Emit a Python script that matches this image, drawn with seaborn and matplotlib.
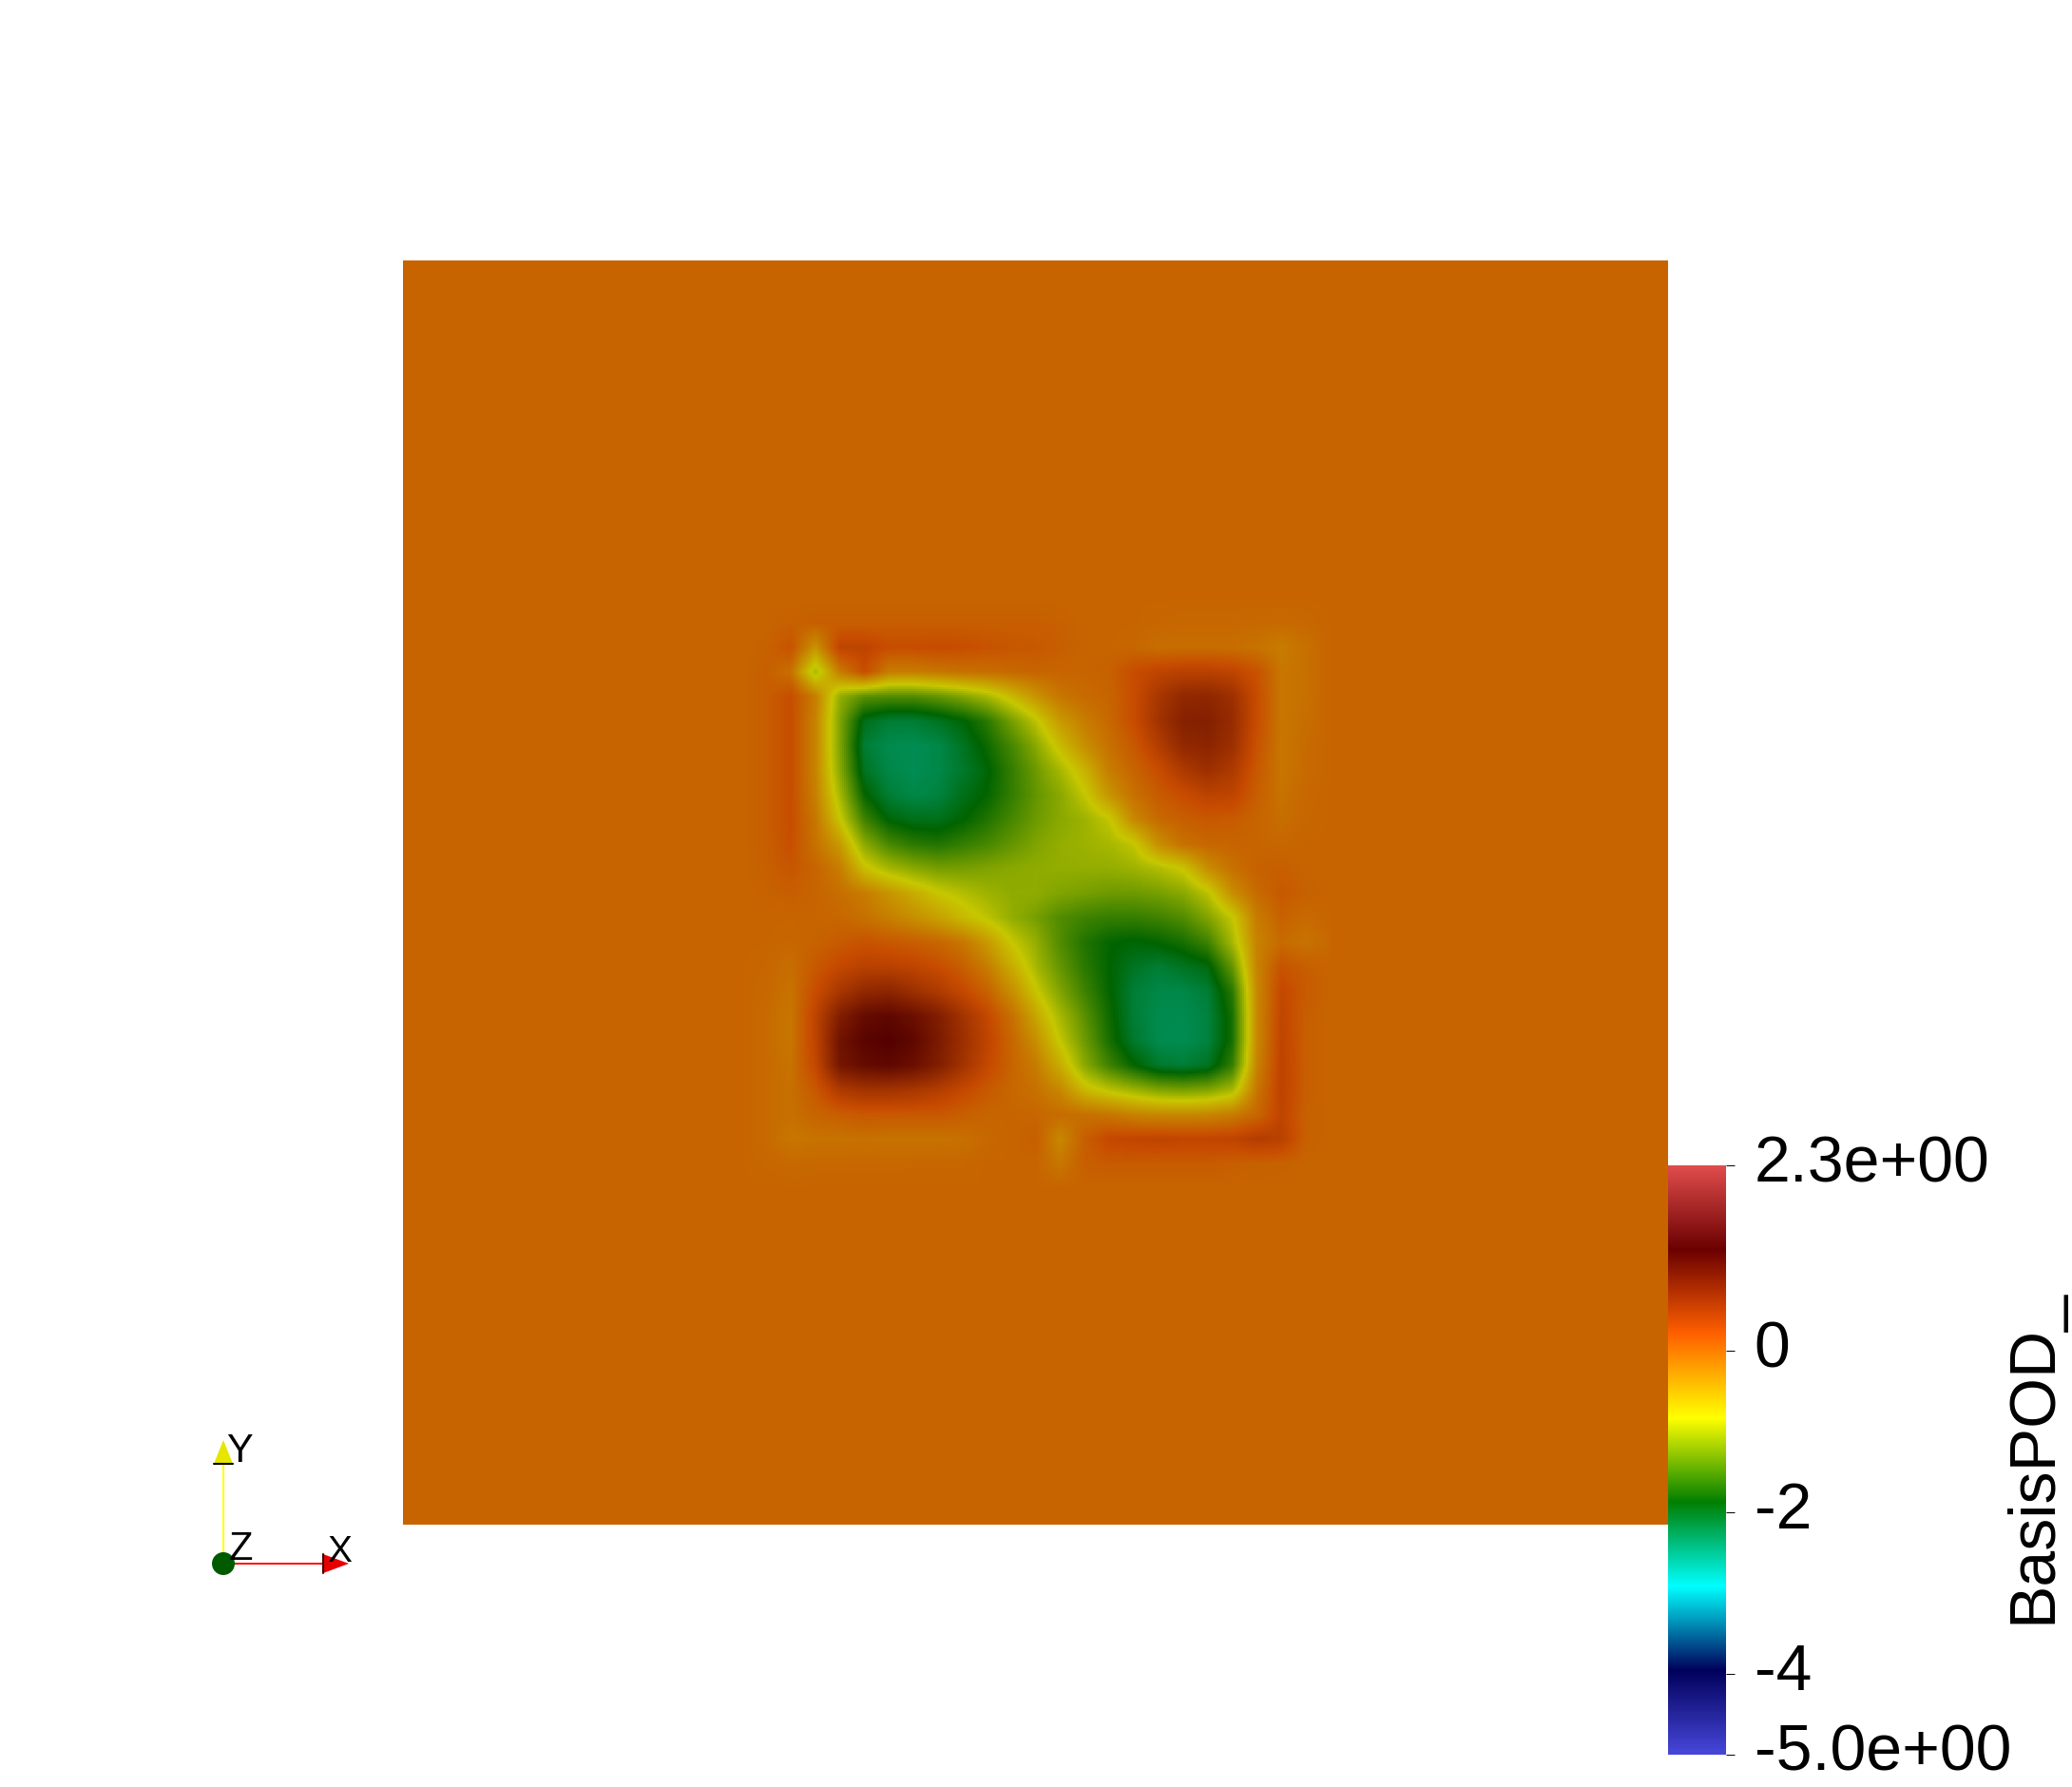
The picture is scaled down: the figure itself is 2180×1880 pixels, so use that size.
import numpy as np
import seaborn as sns
import matplotlib.pyplot as plt
from matplotlib.cm import ScalarMappable
from matplotlib.colors import LinearSegmentedColormap, Normalize
from matplotlib.patches import Circle, Polygon
from matplotlib.transforms import ScaledTranslation

# Values, central part of the square. Outside it the field is 0.
patch_lo = 0.2675
patch_hi = 0.7335
patch_values = [
    [0, 0, 0, 0, 0, 0, 0, 0, 0, 0, 0, 0, 0, 0, 0, 0, 0, 0, 0, 0, 0, 0, 0, 0, 0],
    [0, 0, .03, .05, .05, .05, .05, .05, .05, .05, .05, .05, .05, .03, 0, 0, 0, -.02, -.03, -.03, -.03, -.04, -.05, -.03, 0],
    [0, .02, .15, -.4, .3, .3, .2, .2, .22, .2, .15, .12, .1, .05, 0, 0, -.02, -.08, -.08, -.08, -.08, -.12, -.2, -.1, 0],
    [0, .05, -.1, -1.0, -.2, .2, -.2, -.2, -.15, -.1, -.08, -.03, 0, 0, 0, .03, .2, .3, .35, .35, .3, .15, -.15, -.1, 0],
    [0, .05, .2, -.2, -1.1, -1.4, -1.45, -1.45, -1.35, -1.2, -1.0, -.7, -.4, -.15, -.05, 0, .2, .5, .7, .72, .6, .2, -.15, -.1, 0],
    [0, .05, .2, -.25, -1.2, -2.0, -2.15, -2.15, -2.05, -1.9, -1.65, -1.25, -.88, -.45, -.2, -.03, .2, .55, .8, .82, .65, .2, -.15, -.08, 0],
    [0, .05, .2, -.25, -1.2, -2.15, -2.28, -2.3, -2.25, -2.05, -1.8, -1.5, -1.15, -.72, -.35, -.1, .1, .4, .7, .75, .6, .15, -.15, -.05, 0],
    [0, .05, .2, -.25, -1.15, -2.05, -2.25, -2.3, -2.25, -2.1, -1.9, -1.6, -1.3, -1.0, -.65, -.2, 0, .2, .45, .6, .45, .1, -.15, -.05, 0],
    [0, .05, .2, -.22, -1.0, -1.85, -2.15, -2.25, -2.2, -2.0, -1.85, -1.6, -1.35, -1.15, -.85, -.4, -.1, .08, .2, .32, .3, .05, -.12, -.03, 0],
    [0, .05, .2, -.15, -.8, -1.55, -1.9, -2.0, -2.0, -1.88, -1.7, -1.5, -1.3, -1.15, -1.05, -.85, -.3, -.05, .05, .1, .08, 0, -.08, -.02, 0],
    [0, .05, .18, -.1, -.45, -1.15, -1.5, -1.65, -1.7, -1.6, -1.5, -1.35, -1.2, -1.1, -1.05, -1.0, -.85, -.35, -.1, -.02, 0, 0, -.02, 0, 0],
    [0, .04, .12, 0, -.2, -.75, -1.0, -1.15, -1.25, -1.25, -1.2, -1.15, -1.12, -1.1, -1.1, -1.1, -1.05, -.95, -.8, -.35, -.1, .03, .05, 0, 0],
    [0, .02, .05, 0, -.08, -.2, -.4, -.6, -.8, -.93, -1.05, -1.12, -1.12, -1.2, -1.25, -1.3, -1.3, -1.25, -1.15, -.9, -.35, -.05, .1, .03, 0],
    [0, 0, 0, 0, -.02, -.1, -.22, -.35, -.5, -.7, -.88, -1.1, -1.25, -1.45, -1.55, -1.6, -1.6, -1.55, -1.45, -1.2, -.85, -.2, .02, -.05, 0],
    [0, 0, -.02, .02, .08, .15, .1, .05, -.02, -.15, -.45, -.83, -1.1, -1.45, -1.7, -1.85, -1.9, -1.85, -1.75, -1.55, -1.0, -.25, -.05, -.12, -.03],
    [0, -.02, -.08, .1, .25, .35, .35, .3, .2, .05, -.2, -.6, -1.0, -1.35, -1.65, -1.87, -2.05, -2.15, -2.05, -1.95, -1.35, -.25, .15, .05, 0],
    [0, -.03, -.12, .2, .5, .7, .75, .6, .45, .25, .02, -.35, -.8, -1.2, -1.55, -1.85, -2.15, -2.25, -2.25, -2.15, -1.65, -.3, .25, .08, 0],
    [0, -.05, -.15, .3, .85, 1.1, 1.15, 1.05, .85, .55, .25, -.1, -.55, -1.0, -1.4, -1.8, -2.15, -2.28, -2.28, -2.2, -1.75, -.3, .28, .05, 0],
    [0, -.05, -.15, .3, 1.0, 1.2, 1.25, 1.15, .9, .6, .3, -.02, -.35, -.85, -1.3, -1.75, -2.1, -2.28, -2.3, -2.2, -1.75, -.3, .3, .05, 0],
    [0, -.05, -.12, .25, .95, 1.1, 1.15, 1.05, .85, .55, .25, 0, -.2, -.6, -1.15, -1.55, -1.85, -2.1, -2.15, -2.05, -1.6, -.25, .32, .05, 0],
    [0, -.05, -.1, .1, .45, .55, .55, .5, .4, .25, .1, -.03, -.1, -.3, -.7, -.9, -1.05, -1.2, -1.25, -1.2, -1.0, -.15, .32, .05, 0],
    [0, -.05, -.1, 0, .05, .1, .1, .1, .1, .05, 0, 0, -.02, -.06, -.1, -.15, -.25, -.3, -.3, -.28, -.2, -.02, .3, .03, 0],
    [0, -.05, -.15, -.12, -.12, -.1, -.12, -.12, -.12, -.1, -.03, 0, .05, -.3, .05, .25, .28, .3, .28, .28, .3, .4, .35, .03, 0],
    [0, -.02, -.04, -.03, -.03, -.03, -.03, -.02, -.02, -.02, 0, 0, 0, -.15, .05, .08, .08, .08, .08, .08, .05, .03, .02, 0, 0],
    [0, 0, 0, 0, 0, 0, 0, 0, 0, 0, 0, 0, 0, 0, 0, 0, 0, 0, 0, 0, 0, 0, 0, 0, 0],
]

vmin = -5.0
vmax = 2.3
bar_ticks = [-5.0, -4, -2, 0, 2.3]
bar_labels = ['-5.0e+00', '-4', '-2', '0', '2.3e+00']
bar_title = 'BasisPOD_'

# Rainbow desaturated, evenly spaced stops
stops = [(71, 71, 219), (0, 0, 91), (0, 255, 255), (0, 127, 0),
         (255, 255, 0), (255, 96, 0), (107, 0, 0), (224, 76, 76)]
shade = 0.78  # the surface is lit, so it looks darker than the bar

bar_cmap = LinearSegmentedColormap.from_list(
    'bar', [tuple(c / 255 for c in s) for s in stops], N=1024)
field_cmap = LinearSegmentedColormap.from_list(
    'field', [tuple(shade * c / 255 for c in s) for s in stops], N=1024)

sns.set_theme(style='white')
plt.rcParams['font.family'] = ['Liberation Sans Narrow', 'Liberation Sans', 'DejaVu Sans']

W, H = 2180, 1880
fig = plt.figure(figsize=(W / 100, H / 100), dpi=100)


def px_axes(x0, y0, x1, y1):
    return fig.add_axes([x0 / W, 1 - y1 / H, (x1 - x0) / W, (y1 - y0) / H])


# Resample the picked values onto a fine mesh so colours stay smooth
patch = np.array(patch_values, dtype=float)
n = 666
fine = (np.arange(n) + 0.5) / n
nodes = np.linspace(patch_lo, patch_hi, patch.shape[0])
by_row = np.array([np.interp(fine, nodes, r, left=0, right=0) for r in patch])
field = np.array([np.interp(fine, nodes, c, left=0, right=0) for c in by_row.T]).T

ax = px_axes(424, 274, 1755, 1604)
sns.heatmap(field, ax=ax, cmap=field_cmap, vmin=vmin, vmax=vmax, cbar=False,
            xticklabels=False, yticklabels=False)

# Colour bar
cax = px_axes(1755, 1226, 1816, 1846)
cb = fig.colorbar(ScalarMappable(Normalize(vmin, vmax), bar_cmap), cax=cax)
cb.outline.set_visible(False)
cb.set_ticks(bar_ticks)
cb.set_ticklabels(bar_labels)
cax.tick_params(axis='y', right=True, length=6.5, width=0.7, color='black',
                pad=15, labelsize=49, labelcolor='black')
shift = ScaledTranslation(0, 8 / 100, fig.dpi_scale_trans)
for lab in cax.get_yticklabels():
    lab.set_transform(lab.get_transform() + shift)

fig.text(2139 / W, 1 - 1532 / H, bar_title, rotation=90, ha='center', va='center',
         fontsize=49, color='black')

# Orientation widget, in figure pixels
over = fig.add_axes([0, 0, 1, 1])
over.set_xlim(0, W)
over.set_ylim(H, 0)
over.axis('off')
over.patch.set_alpha(0)

over.plot([235, 235], [1645, 1540], color='#ffff00', lw=1.4, zorder=2)
over.plot([235, 340], [1645, 1645], color='#ff0000', lw=1.4, zorder=2)
over.add_patch(Polygon([(225, 1540), (245, 1540), (235, 1515)], fc='#e6e600', ec='none', zorder=3))
over.plot([225, 245], [1540, 1540], color='black', lw=1.5, zorder=3)
over.add_patch(Polygon([(340, 1635), (340, 1655), (367, 1645)], fc='#e60000', ec='none', zorder=3))
over.plot([340, 340], [1635, 1655], color='#400000', lw=1.5, zorder=3)
over.add_patch(Circle((235, 1645), 12, fc='#005a00', ec='none', zorder=4))

sans = ['Liberation Sans', 'DejaVu Sans']
over.text(252, 1527, 'Y', ha='center', va='center', fontsize=30, color='black', family=sans, zorder=5)
over.text(253, 1630, 'Z', ha='center', va='center', fontsize=30, color='black', family=sans, zorder=5)
over.text(357, 1633, 'X', ha='center', va='center', fontsize=28, color='black', family=sans, zorder=5)

fig.savefig('out.png', dpi=100)
